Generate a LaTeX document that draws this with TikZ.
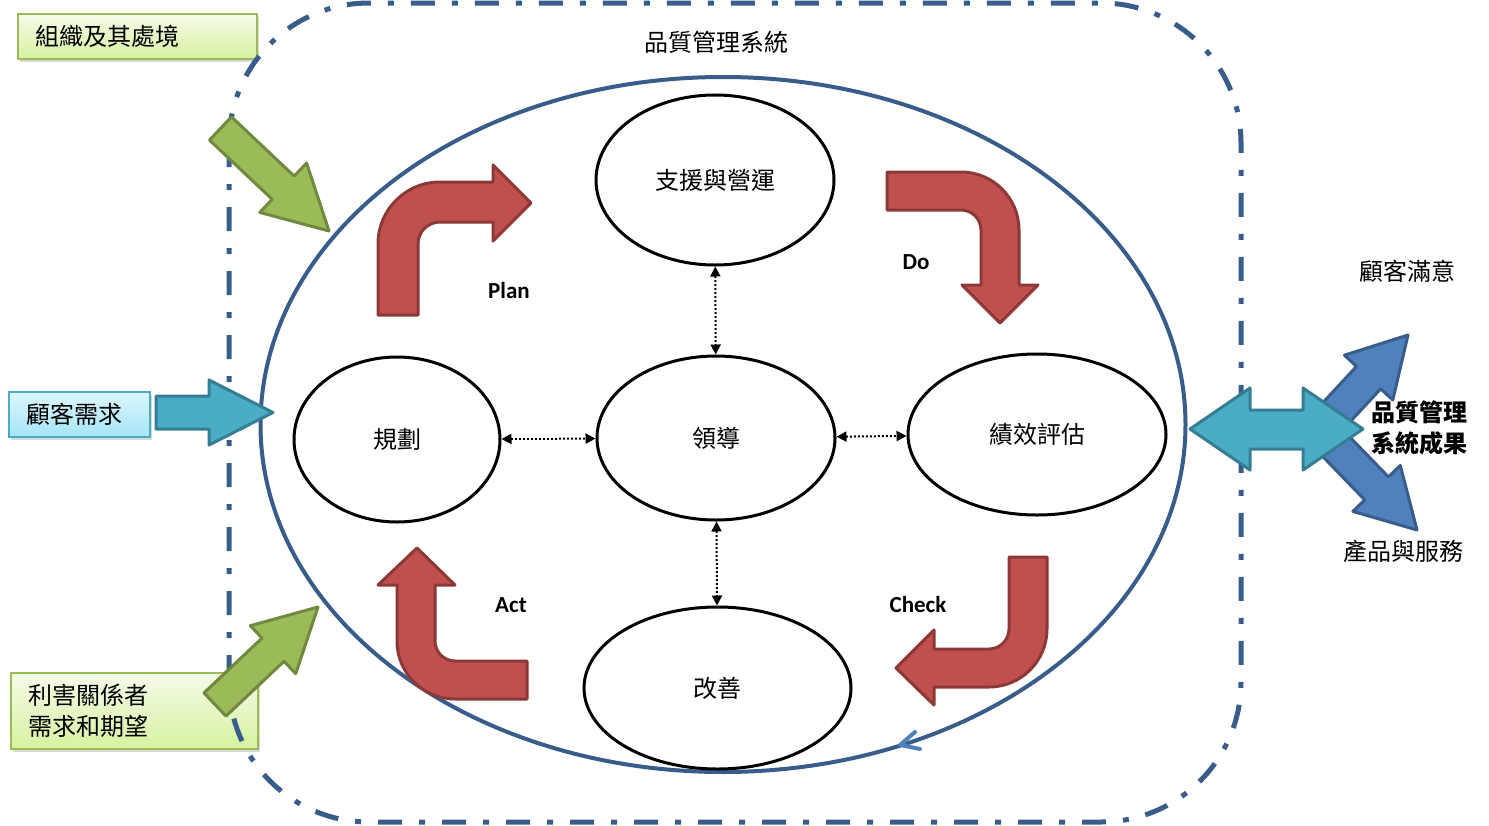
\documentclass[tikz,border=0pt]{standalone}
\usepackage{fontspec}
\setmainfont{Noto Sans CJK TC}
\newfontfamily\calibri{Carlito}
\usetikzlibrary{shapes.geometric, arrows.meta, shadows}

\definecolor{ringblue}{RGB}{56,93,138}
\definecolor{tipblue}{RGB}{79,129,189}
\definecolor{redfill}{RGB}{192,80,77}
\definecolor{redline}{RGB}{140,56,54}
\definecolor{grnfill}{RGB}{155,187,89}
\definecolor{grnline}{RGB}{113,137,63}
\definecolor{cyanfill}{RGB}{75,172,198}
\definecolor{cyanline}{RGB}{53,125,145}
\definecolor{bluefill}{RGB}{79,129,189}
\definecolor{blueline}{RGB}{56,93,138}
\definecolor{grntop}{RGB}{245,251,233}
\definecolor{grnbot}{RGB}{214,242,160}
\definecolor{cyantop}{RGB}{222,246,253}
\definecolor{cyanbot}{RGB}{164,229,247}

\newcommand{\cjksize}{\fontsize{12}{15.5}\selectfont}

\tikzset{
  stage/.style={ellipse, draw=black, line width=1.5pt, fill=white, inner sep=0pt, font=\cjksize},
  link/.style={densely dotted, line width=1pt, {Triangle[length=5pt,width=5pt]}-{Triangle[length=5pt,width=5pt]}},
  pdca/.style={font=\calibri\bfseries\fontsize{11.5}{14}\selectfont},
  cycarrow/.style={fill=redfill, draw=redline, line width=1.5pt, line join=round},
  inarrow/.style={fill=grnfill, draw=grnline, line width=1.5pt, line join=round},
  needarrow/.style={fill=cyanfill, draw=cyanline, line width=1.5pt, line join=round},
  outarrow/.style={fill=bluefill, draw=blueline, line width=1.5pt, line join=round},
  gbox/.style={draw=grnfill, line width=1pt, top color=grntop, bottom color=grnbot,
    drop shadow={shadow xshift=1.2pt, shadow yshift=-1.5pt, opacity=0.3},
    inner xsep=8.5pt, align=left, anchor=north west, font=\cjksize},
  cbox/.style={draw=cyanfill, line width=1pt, top color=cyantop, bottom color=cyanbot,
    drop shadow={shadow xshift=1.2pt, shadow yshift=-1.5pt, opacity=0.3},
    inner xsep=8.5pt, align=left, anchor=north west, font=\cjksize},
  plain/.style={font=\cjksize}
}

\begin{document}
\begin{tikzpicture}[x=0.5pt, y=-0.5pt]
\useasboundingbox (0,0) rectangle (1489,825);

% boxes on the left
\node[gbox, text width=102.5pt, minimum height=22.5pt] (org) at (17,13) {組織及其處境};
\node[cbox, text width=53.5pt, minimum height=22.5pt] (need) at (8,391) {顧客需求};
\node[gbox, text width=106.5pt, minimum height=38pt] (party) at (10,672) {利害關係者\\需求和期望};

% system border
\draw[ringblue, line width=2.5pt, dash pattern=on 12pt off 8.5pt on 3pt off 8.5pt, rounded corners=70pt]
  (229,3) rectangle (1241,822);
\node[plain] (sys) at (716,42) {品質管理系統};

% ring
\draw[ringblue, line width=2pt] (723,424.5) ellipse [x radius=462.5, y radius=347.5];
\draw[tipblue, line width=2pt, line cap=round, line join=round] (915,732) -- (900,745) -- (920,749);

% stages
\node[stage, minimum width=119pt, minimum height=85pt] (supp) at (715,180) {支援與營運};
\node[stage, minimum width=103pt, minimum height=82.5pt] (plan) at (397,439.5) {規劃};
\node[stage, minimum width=119pt, minimum height=82pt] (lead) at (716,438) {領導};
\node[stage, minimum width=129pt, minimum height=80.5pt] (perf) at (1037,434.5) {績效評估};
\node[stage, minimum width=133.5pt, minimum height=81pt] (impr) at (717.5,688) {改善};

\draw[link] (supp) -- (lead);
\draw[link] (plan) -- (lead);
\draw[link] (lead) -- (perf);
\draw[link] (lead) -- (impr);

% PDCA arrows
\draw[cycarrow] (378,315) -- (378,244) arc[start angle=180, end angle=270, radius=62]
  -- (493,182) -- (493,165) -- (531,203) -- (493,241) -- (493,222) -- (440,222)
  arc[start angle=270, end angle=180, radius=22] -- (418,315) -- cycle;
\draw[cycarrow] (887,172) -- (961,172) arc[start angle=270, end angle=360, radius=58]
  -- (1019,285) -- (1038,285) -- (1000,323) -- (962,285) -- (981,285) -- (981,230)
  arc[start angle=0, end angle=-90, radius=20] -- (887,210) -- cycle;
\draw[cycarrow] (1009,557) -- (1047,557) -- (1047,629) arc[start angle=0, end angle=90, radius=58]
  -- (934,687) -- (934,705) -- (896,668) -- (934,630) -- (934,649) -- (989,649)
  arc[start angle=90, end angle=0, radius=20] -- cycle;
\draw[cycarrow] (527,661) -- (527,699) -- (455,699) arc[start angle=90, end angle=180, radius=58]
  -- (397,585) -- (378,585) -- (417,548) -- (455,585) -- (435,585) -- (435,641)
  arc[start angle=180, end angle=90, radius=20] -- cycle;

\node[pdca] (p) at (509,291) {Plan};
\node[pdca] (d) at (916,262) {Do};
\node[pdca] (c) at (918,605) {Check};
\node[pdca] (a) at (511,605) {Act};

% inputs
\draw[inarrow] (209.5,140.1) -- (231.5,116.9) -- (294.2,176.1) -- (306.6,163) -- (329,231)
  -- (259.8,212.4) -- (272.2,199.3) -- cycle;
\draw[needarrow] (156,396) -- (209,396) -- (209,380) -- (273,412.5) -- (209,445) -- (209,429)
  -- (156,429) -- cycle;
\draw[inarrow] (204,692.9) -- (262,638.1) -- (250.3,625.7) -- (318,607) -- (295.7,673.7)
  -- (284,661.3) -- (226,716.1) -- cycle;

% outputs
\draw[outarrow] (1307.9,418.8) -- (1356.5,366.4) -- (1344.4,355.2) -- (1408,335) -- (1392.8,400)
  -- (1380.7,388.8) -- (1332.1,441.2) -- cycle;
\draw[outarrow] (1331.8,418.5) -- (1388.4,476.9) -- (1400.3,465.4) -- (1417,530) -- (1352.9,511.4)
  -- (1364.8,499.9) -- (1308.2,441.5) -- cycle;
\draw[needarrow] (1190,429) -- (1250,388) -- (1250,410) -- (1303,410) -- (1303,388) -- (1363,429)
  -- (1303,470) -- (1303,449) -- (1250,449) -- (1250,470) -- cycle;

\node[plain] (sat) at (1407,271) {顧客滿意};
\node[plain] (prod) at (1403,551) {產品與服務};
\node[plain, font=\cjksize\bfseries, align=center] (result) at (1419,428) {品質管理\\系統成果};
\end{tikzpicture}
\end{document}
